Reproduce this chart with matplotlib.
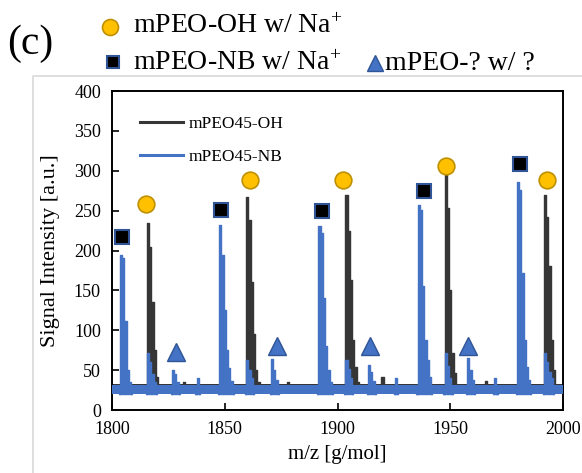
import matplotlib
matplotlib.use("Agg")
import matplotlib.pyplot as plt
from matplotlib.lines import Line2D

plt.rcParams['font.family'] = ['Liberation Serif', 'DejaVu Serif']
plt.rcParams['mathtext.fontset'] = 'custom'
plt.rcParams['mathtext.rm'] = 'Liberation Serif'
plt.rcParams['mathtext.it'] = 'Liberation Serif:italic'

# ---------------- data ----------------
x_range = [1800, 2000]
# noisy baseline bands (low, high)
oh_baseline = [27, 32.5]
nb_baseline = [20, 31]

# mPEO45-OH main isotope clusters (first isotope m/z, heights of successive isotopes)
oh_main_mz = [1816, 1860, 1904, 1948, 1992]
oh_main_int = [[234, 205, 136, 75, 42],
               [267, 238, 160, 95, 50, 35],
               [270, 224, 163, 88, 54, 35],
               [297, 253, 150, 71, 46],
               [270, 242, 180, 88, 50]]
oh_small_mz = [1832, 1878, 1920, 1966]
oh_small_int = [[35], [35], [42], [36]]

# mPEO45-NB main isotope clusters
nb_main_mz = [1804, 1848, 1892, 1936, 1980]
nb_main_int = [[194, 190, 111, 50, 35],
               [232, 194, 125, 75, 53, 36],
               [231, 222, 140, 80, 50, 35],
               [257, 251, 155, 88, 63, 42],
               [286, 276, 172, 88, 54, 38]]
# NB minor clusters at the OH positions
nb_minor_mz = [1816, 1860, 1904, 1948, 1992]
nb_minor_int = [[71, 60, 45, 35],
                [63, 50, 40],
                [63, 52, 40],
                [71, 55, 40],
                [71, 60, 48, 40]]
# unknown species clusters
nb_unk_mz = [1827, 1871, 1914, 1958]
nb_unk_int = [[50, 45, 35],
              [64, 50, 38],
              [56, 48, 36],
              [65, 50, 38]]
nb_small_mz = [1838, 1926, 1970]
nb_small_int = [[40], [40], [40]]

# marker annotations
oh_marker_mz = [1815, 1861, 1902.5, 1948, 1993]
oh_marker_y = [258, 288, 288, 306, 288]
nb_marker_mz = [1804.5, 1848.5, 1893, 1938.5, 1981]
nb_marker_y = [217, 251, 249, 275, 308]
unk_marker_mz = [1828.5, 1873, 1914.5, 1958]
unk_marker_y = [73, 80, 80, 80]

y_ticks = [0, 50, 100, 150, 200, 250, 300, 350, 400]
x_ticks = [1800, 1850, 1900, 1950, 2000]

# ---------------- styling ----------------
c_oh = '#363636'
c_nb = '#4472C4'
W, H = 582, 473
fig = plt.figure(figsize=(W / 100, H / 100), dpi=100)
ax = fig.add_axes([112 / W, 1 - 410 / H, (563 - 112) / W, (410 - 91) / H])


def draw_clusters(mzs, ints, base, color, z):
    for mz0, hs in zip(mzs, ints):
        xs = [mz0 - 1] + [mz0 + i for i in range(len(hs))] + [mz0 + len(hs)]
        ys = [base] + list(hs) + [base]
        ax.fill_between(xs, base, ys, step='mid', color=color, lw=1.0,
                        edgecolor=color, zorder=z)


# OH series (drawn first)
ax.fill_between(x_range, oh_baseline[0], oh_baseline[1], color=c_oh, lw=0, zorder=2)
draw_clusters(oh_main_mz, oh_main_int, oh_baseline[0], c_oh, 2)
draw_clusters(oh_small_mz, oh_small_int, oh_baseline[0], c_oh, 2)

# NB series (on top)
ax.fill_between(x_range, nb_baseline[0], nb_baseline[1], color=c_nb, lw=0, zorder=3)
draw_clusters(nb_main_mz, nb_main_int, nb_baseline[0], c_nb, 3)
draw_clusters(nb_minor_mz, nb_minor_int, nb_baseline[0], c_nb, 3)
draw_clusters(nb_unk_mz, nb_unk_int, nb_baseline[0], c_nb, 3)
draw_clusters(nb_small_mz, nb_small_int, nb_baseline[0], c_nb, 3)

# markers
ax.plot(oh_marker_mz, oh_marker_y, 'o', ms=12, mfc='#FFC000', mec='#BF9000', mew=1.2,
        ls='none', zorder=5, clip_on=False)
ax.plot(nb_marker_mz, nb_marker_y, 's', ms=9.5, mfc='black', mec='#2F5597', mew=1.5,
        ls='none', zorder=5, clip_on=False)
ax.plot(unk_marker_mz, unk_marker_y, '^', ms=12.5, mfc='#4472C4', mec='#2F5597', mew=1.0,
        ls='none', zorder=5, clip_on=False)

ax.set_xlim(x_range)
ax.set_ylim(0, 400)
ax.set_xticks(x_ticks)
ax.set_yticks(y_ticks)
ax.tick_params(direction='in', length=5, width=1.2, labelsize=13, top=False, right=False,
               colors='black', pad=8)
for s in ax.spines.values():
    s.set_linewidth(1.4)
    s.set_color('black')
ax.set_xlabel('m/z [g/mol]', fontsize=15, labelpad=5)
ax.set_ylabel('Signal Intensity [a.u.]', fontsize=16, labelpad=10)

handles = [Line2D([], [], color=c_oh, lw=2.2), Line2D([], [], color=c_nb, lw=2.2)]
ax.legend(handles, ['mPEO45-OH', 'mPEO45-NB'], loc='upper left',
          bbox_to_anchor=((140 - 112) / 451, 1 - (116 - 91) / 319), frameon=False,
          fontsize=12.5, handlelength=2.5, handletextpad=0.3, labelspacing=0.95,
          borderaxespad=0, borderpad=0)

# outer light-gray chart border (top and left edges)
fig.add_artist(Line2D([33 / W, 33 / W, 1.0], [0.0, 1 - 76 / H, 1 - 76 / H],
                      transform=fig.transFigure, color='#D9D9D9', lw=1.2))

# header annotation
fig.text(7 / W, 1 - 54 / H, '(c)', fontsize=30, va='baseline', ha='left')
fig.add_artist(Line2D([110 / W], [1 - 27 / H], marker='o', ms=11.5, mfc='#FFC000',
                      mec='#BF9000', mew=1.2, transform=fig.transFigure))
fig.text(133 / W, 1 - 33 / H, r'mPEO-OH w/ Na$^{+}$', fontsize=20, va='baseline', ha='left')
fig.add_artist(Line2D([113 / W], [1 - 62 / H], marker='s', ms=8.5, mfc='black',
                      mec='#2F5597', mew=1.5, transform=fig.transFigure))
fig.text(133 / W, 1 - 70 / H, r'mPEO-NB w/ Na$^{+}$', fontsize=20, va='baseline', ha='left')
fig.add_artist(Line2D([375 / W], [1 - 63 / H], marker='^', ms=12, mfc='#4472C4',
                      mec='#2F5597', mew=1.0, transform=fig.transFigure))
fig.text(385 / W, 1 - 70 / H, 'mPEO-? w/ ?', fontsize=20, va='baseline', ha='left')

fig.savefig('out.png', dpi=100)
